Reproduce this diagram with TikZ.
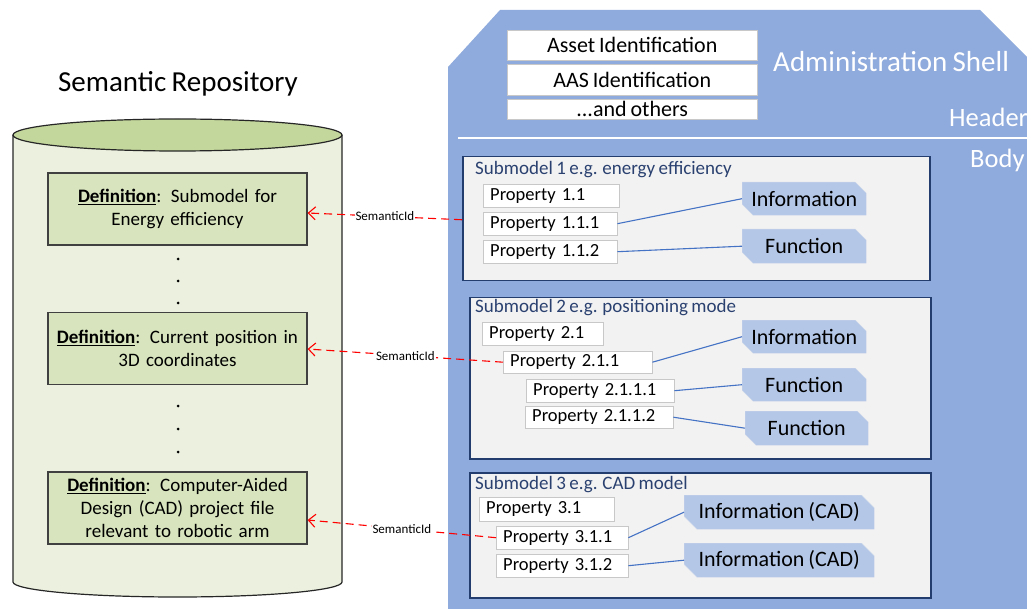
\documentclass[tikz,border=0pt]{standalone}
\usepackage{fontspec}
\setmainfont[WordSpace=0.8]{Carlito}
\usetikzlibrary{arrows.meta,shapes.misc}

\definecolor{shellfill}{HTML}{8FAADC}
\definecolor{smfill}{HTML}{F2F2F2}
\definecolor{smline}{HTML}{233E6E}
\definecolor{smtext}{HTML}{2A4170}
\definecolor{propline}{HTML}{C8C8C8}
\definecolor{tagfill}{HTML}{B4C7E7}
\definecolor{tagedge}{HTML}{C9D5EA}
\definecolor{linkblue}{HTML}{4472C4}
\definecolor{cylbody}{HTML}{EBF1DE}
\definecolor{cyltop}{HTML}{C3D69B}
\definecolor{deffill}{HTML}{D7E4BD}
\definecolor{defline}{HTML}{404040}
\definecolor{semred}{HTML}{FF0000}

\tikzset{
  bigtext/.style={font=\fontsize{29}{34}\selectfont},
  hdtext/.style={font=\fontsize{26.5}{31}\selectfont},
  hdrbox/.style={draw=propline, fill=white, anchor=north west, inner sep=0pt,
    minimum width=250pt, font=\fontsize{22}{26}\selectfont},
  smbox/.style={draw=smline, fill=smfill, line width=1.5pt, anchor=north west, inner sep=0pt},
  smtitle/.style={anchor=west, inner sep=0pt, text=smtext, font=\fontsize{19}{23}\selectfont},
  prop/.style={draw=propline, fill=white, anchor=north west, inner xsep=7pt, inner ysep=0pt,
    minimum height=23pt, align=left, font=\fontsize{18.5}{22}\selectfont},
  tagbox/.style={chamfered rectangle, chamfered rectangle corners={north east,south west},
    chamfered rectangle xsep=11pt, fill=tagfill, draw=tagedge, inner sep=0pt,
    minimum height=33pt, anchor=north west, font=\fontsize{22}{26}\selectfont},
  link/.style={draw=linkblue, line width=1.1pt},
  defbox/.style={draw=defline, fill=deffill, line width=1.2pt, inner xsep=7pt, inner ysep=0pt,
    text width=245pt, minimum height=72pt, align=center, font=\fontsize{19}{23}\selectfont},
  semlink/.style={draw=semred, line width=1.1pt, dash pattern=on 8pt off 5pt,
    -{Straight Barb[length=7pt,width=13pt]}},
  semlabel/.style={fill=white, inner sep=1pt, font=\fontsize{13}{15}\selectfont, text=black},
  dot/.style={fill=black, circle, inner sep=0pt, minimum size=3pt}
}

\begin{document}
\begin{tikzpicture}[x=1pt,y=-1pt]
\useasboundingbox (0,0) rectangle (1027,609);
\begin{scope}
\clip (0,0) rectangle (1027,609);

% ---------- semantic repository (cylinder) ----------
\node[bigtext] (reptitle) at (178,84) {Semantic Repository};
\draw[fill=cylbody, line width=1.2pt, draw=black!85]
  (13,135) -- (13,582) arc[start angle=180, end angle=0, x radius=164.5, y radius=15]
  -- (342,135);
\draw[fill=cyltop, line width=1.2pt, draw=black!85] (177.5,135) ellipse[x radius=164.5, y radius=16];

\node[defbox] (def1) at (177.5,209)
  {\underline{\textbf{Definition}}: Submodel for\\Energy efficiency};
\node[defbox] (def2) at (177.5,348.5)
  {\underline{\textbf{Definition}}: Current position in\\3D coordinates};
\node[defbox] (def3) at (177.5,508)
  {\underline{\textbf{Definition}}: Computer-Aided\\Design (CAD) project file\\relevant to robotic arm};

\foreach \yy in {259,281,303,406,429,452}
  \node[dot] at (178,\yy) {};

% ---------- administration shell ----------
\fill[shellfill] (448,67) -- (500,10) -- (980,10) -- (1040,70) -- (1040,620) -- (448,620) -- cycle;
\draw[white, line width=1.5pt] (458,138) -- (1030,138);

\node[hdrbox, minimum height=30pt] (asset) at (507,30) {Asset Identification};
\node[hdrbox, minimum height=31pt] (aasid) at (507,64) {AAS Identification};
\node[hdrbox, minimum height=20pt] (others) at (507,99) {...and others};

\node[anchor=west, inner sep=0pt, text=white, bigtext] (shelltitle) at (773,62) {Administration Shell};
\node[anchor=west, inner sep=0pt, text=white, hdtext] (header) at (949,117) {Header};
\node[anchor=west, inner sep=0pt, text=white, hdtext] (body) at (970,160) {Body};

% ---------- submodel 1 ----------
\node[smbox, minimum width=467pt, minimum height=124pt] (sm1) at (462,156) {};
\node[smtitle] (sm1t) at (475,170) {Submodel 1 e.g. energy efficiency};
\node[prop, text width=122pt] (p11) at (483,184) {Property 1.1};
\node[prop, text width=120pt] (p111) at (483,212) {Property 1.1.1};
\node[prop, text width=120pt] (p112) at (483,240) {Property 1.1.2};
\node[tagbox, minimum width=124pt] (inf1) at (742,182) {Information};
\node[tagbox, minimum width=124pt, minimum height=34pt] (fun1) at (742,229) {Function};
\draw[link] (p111.east) -- (inf1.west);
\draw[link] (p112.east) -- (fun1.west);

% ---------- submodel 2 ----------
\node[smbox, minimum width=461pt, minimum height=161pt] (sm2) at (469,297) {};
\node[smtitle] (sm2t) at (475,308) {Submodel 2 e.g. positioning mode};
\node[prop, text width=107pt] (p21) at (482,322) {Property 2.1};
\node[prop, text width=135pt, minimum height=22pt] (p211) at (503,351) {Property 2.1.1};
\node[prop, text width=134pt] (p2111) at (526,379) {Property 2.1.1.1};
\node[prop, text width=134pt, minimum height=22pt] (p2112) at (525,406) {Property 2.1.1.2};
\node[tagbox, minimum width=124pt] (inf2) at (742,320) {Information};
\node[tagbox, minimum width=124pt] (fun2a) at (742,368) {Function};
\node[tagbox, minimum width=123pt, minimum height=34pt] (fun2b) at (745,411) {Function};
\draw[link] (p211.east) -- (inf2.west);
\draw[link] (p2111.east) -- (fun2a.west);
\draw[link] (p2112.east) -- (fun2b.west);

% ---------- submodel 3 ----------
\node[smbox, minimum width=461pt, minimum height=125pt] (sm3) at (469,472) {};
\node[smtitle] (sm3t) at (475,485) {Submodel 3 e.g. CAD model};
\node[prop, text width=121pt, minimum height=24pt] (p31) at (479,497) {Property 3.1};
\node[prop, text width=118pt] (p311) at (496,526) {Property 3.1.1};
\node[prop, text width=118pt] (p312) at (496,554) {Property 3.1.2};
\node[tagbox, minimum width=190pt, minimum height=34pt] (cad1) at (684,495) {Information (CAD)};
\node[tagbox, minimum width=190pt, minimum height=34pt] (cad2) at (684,543) {Information (CAD)};
\draw[link] (p311.east) -- (cad1.west);
\draw[link] (p312.east) -- (cad2.west);

% ---------- semantic references ----------
\draw[semlink] ([yshift=-1pt]sm1.west) -- node[semlabel]{SemanticId} ([yshift=-4pt]def1.east);
\draw[semlink] (p211.west) -- node[semlabel]{SemanticId} ([yshift=-0.5pt]def2.east);
\draw[semlink] (p311.west) -- node[semlabel]{SemanticId} ([yshift=-12pt]def3.east);
\end{scope}
\end{tikzpicture}
\end{document}
